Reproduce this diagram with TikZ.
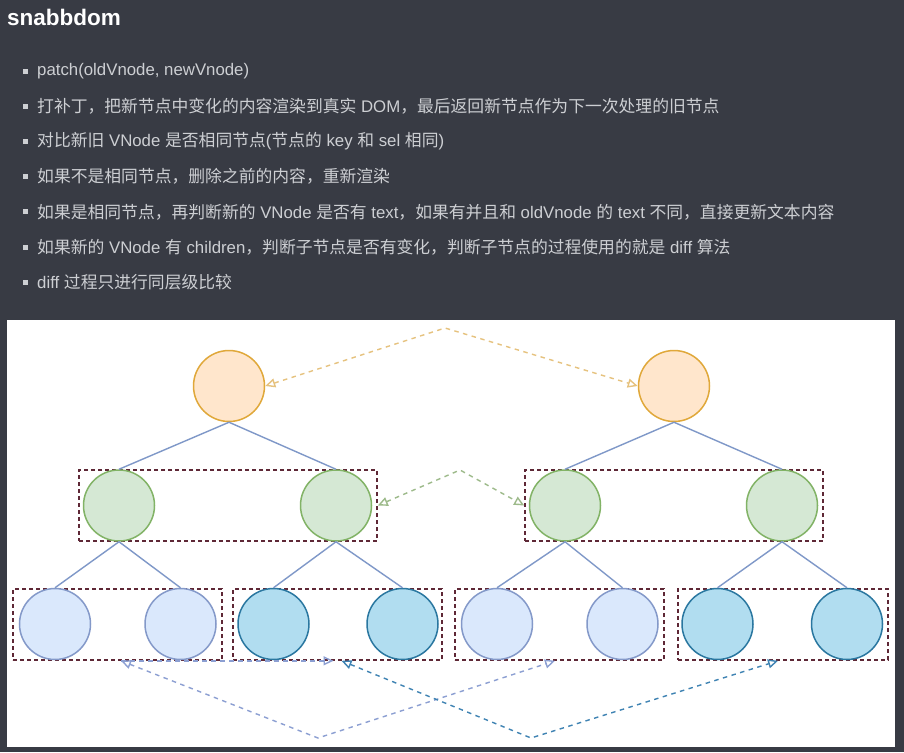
\documentclass[tikz,border=0pt]{standalone}
\usepackage{fontspec}
\setmainfont{Liberation Sans}
\newfontfamily\cjk{Noto Sans CJK SC}
\usetikzlibrary{arrows.meta}
\definecolor{bg}{HTML}{383B44}
\definecolor{txt}{HTML}{CDCFD3}
\definecolor{orgF}{HTML}{FFE6CC}\definecolor{orgD}{HTML}{E0A83A}
\definecolor{grnF}{HTML}{D5E8D4}\definecolor{grnD}{HTML}{82B366}
\definecolor{lbF}{HTML}{DAE8FC}\definecolor{lbD}{HTML}{8499C9}
\definecolor{dbF}{HTML}{B1DDF0}\definecolor{dbD}{HTML}{2A77A0}
\definecolor{boxD}{HTML}{5E2836}
\definecolor{edgeC}{HTML}{7F98C8}
\definecolor{arrO}{HTML}{E6C27E}
\definecolor{arrG}{HTML}{9DBA8A}
\definecolor{arrL}{HTML}{8C9FD2}
\definecolor{arrD}{HTML}{3F83B3}
\newcommand\zh[1]{{\cjk #1}}
\tikzset{
  bul/.style={anchor=west,text=txt,font=\fontsize{16.8}{18}\selectfont,inner sep=0},
  bsq/.style={fill=txt,minimum size=5pt,inner sep=0},
  vn/.style={circle,minimum size=71pt,inner sep=0,line width=1.5pt},
  orgn/.style={vn,draw=orgD,fill=orgF},
  grnn/.style={vn,draw=grnD,fill=grnF},
  lbn/.style={vn,draw=lbD,fill=lbF},
  dbn/.style={vn,draw=dbD,fill=dbF},
  edge/.style={draw=edgeC,line width=1.4pt},
  dbox/.style={draw=boxD,line width=1.6pt,dash pattern=on 4pt off 3pt,minimum height=71pt,inner sep=0},
  darr/.style={line width=1.4pt,dash pattern=on 4.5pt off 4.5pt,{Triangle[open,length=10pt,width=9pt]}-{Triangle[open,length=10pt,width=9pt]}},
  sarr/.style={line width=1.4pt,dash pattern=on 4.5pt off 4.5pt,-{Triangle[open,length=10pt,width=9pt]}}
}
\begin{document}
\begin{tikzpicture}[x=1pt,y=-1pt]
\fill[bg] (0,0) rectangle (904,752);
\useasboundingbox (0,0) rectangle (904,752);
\node[anchor=base west,inner sep=0,text=white,font=\fontsize{22.5}{24}\bfseries] (title) at (7,25.5) {snabbdom};
\foreach \i/\t in {0/{patch(oldVnode, newVnode)},
 1/{\zh{打补丁，把新节点中变化的内容渲染到真实} DOM\zh{，最后返回新节点作为下一次处理的旧节点}},
 2/{\zh{对比新旧} VNode \zh{是否相同节点}(\zh{节点的} key \zh{和} sel \zh{相同})},
 3/{\zh{如果不是相同节点，删除之前的内容，重新渲染}},
 4/{\zh{如果是相同节点，再判断新的} VNode \zh{是否有} text\zh{，如果有并且和} oldVnode \zh{的} text \zh{不同，直接更新文本内容}},
 5/{\zh{如果新的} VNode \zh{有} children\zh{，判断子节点是否有变化，判断子节点的过程使用的就是} diff \zh{算法}},
 6/{diff \zh{过程只进行同层级比较}}}{
  \node[bsq] (b\i) at (25.5,{71+35.2*\i}) {};
  \node[bul] (l\i) at (37,{71+35.2*\i}) {\t};
}
% white panel
\fill[white] (7,320) rectangle (895,747);
% boxes
\node[dbox,minimum width=298pt] (gb1) at (228,505.5) {};
\node[dbox,minimum width=298pt] (gb2) at (674,505.5) {};
\node[dbox,minimum width=209pt] (bb1) at (117.5,624.5) {};
\node[dbox,minimum width=209pt] (bb2) at (337.5,624.5) {};
\node[dbox,minimum width=209pt] (bb3) at (559.5,624.5) {};
\node[dbox,minimum width=210pt] (bb4) at (783,624.5) {};
% nodes
\node[orgn] (o1) at (229,386) {};
\node[orgn] (o2) at (674,386) {};
\node[grnn] (g1) at (119,505.5) {};
\node[grnn] (g2) at (336,505.5) {};
\node[grnn] (g3) at (565,505.5) {};
\node[grnn] (g4) at (782,505.5) {};
\node[lbn] (c1) at (55,624) {};
\node[lbn] (c2) at (180.5,624) {};
\node[dbn] (c3) at (273.5,624) {};
\node[dbn] (c4) at (402.5,624) {};
\node[lbn] (c5) at (497,624) {};
\node[lbn] (c6) at (622.5,624) {};
\node[dbn] (c7) at (717.5,624) {};
\node[dbn] (c8) at (847,624) {};
% tree edges
\draw[edge] (o1.south) -- (g1.north);
\draw[edge] (o1.south) -- (g2.north);
\draw[edge] (o2.south) -- (g3.north);
\draw[edge] (o2.south) -- (g4.north);
\draw[edge] (g1.south) -- (c1.north);
\draw[edge] (g1.south) -- (c2.north);
\draw[edge] (g2.south) -- (c3.north);
\draw[edge] (g2.south) -- (c4.north);
\draw[edge] (g3.south) -- (c5.north);
\draw[edge] (g3.south) -- (c6.north);
\draw[edge] (g4.south) -- (c7.north);
\draw[edge] (g4.south) -- (c8.north);
% comparison arrows
\coordinate (ao) at (445,328);
\coordinate (ag) at (460,470);
\coordinate (al) at (318,738);
\coordinate (ad) at (531,738);
\draw[darr,draw=arrO] (o1.east) -- (ao) -- (o2.west);
\draw[darr,draw=arrG] (gb1.east) -- (ag) -- (gb2.west);
\draw[sarr,draw=arrL] ([xshift=3.5pt]bb1.south) -- ([xshift=-4pt]bb2.south);
\draw[darr,draw=arrL] ([xshift=3.5pt]bb1.south) -- (al) -- ([xshift=-4.5pt]bb3.south);
\draw[darr,draw=arrD] ([xshift=4pt]bb2.south) -- (ad) -- ([xshift=-5pt]bb4.south);
\end{tikzpicture}
\end{document}
